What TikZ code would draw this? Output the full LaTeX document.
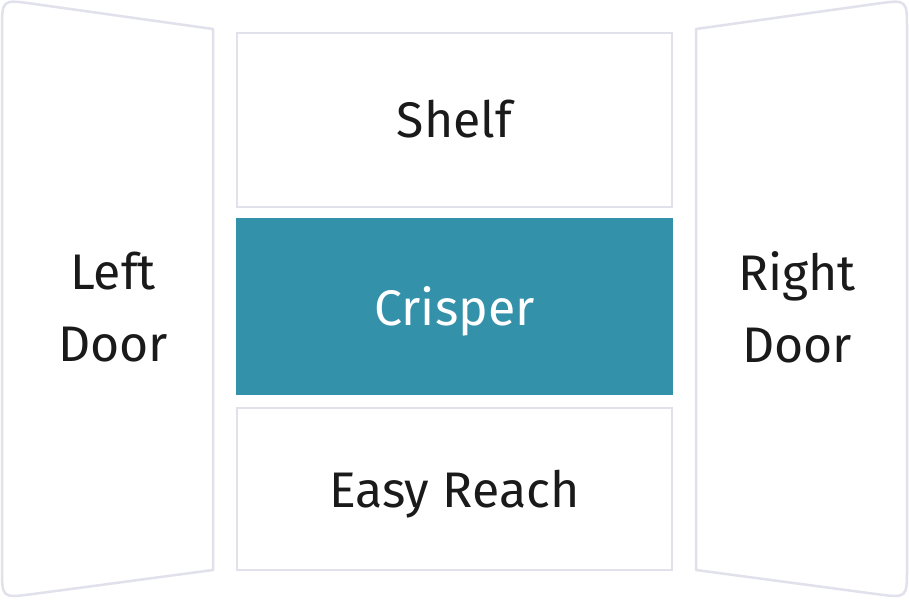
\documentclass[tikz,border=0pt]{standalone}
\usepackage{fontspec}
\setmainfont{Fira Sans}
\definecolor{edgegrey}{HTML}{E1E1EC}
\definecolor{crisperteal}{HTML}{3391AA}
\definecolor{inkdark}{HTML}{1A1A1A}
\tikzset{
  door/.style={draw=edgegrey, line width=2.5pt, line join=round, fill=white},
  bin/.style={draw=edgegrey, line width=2.5pt, fill=white},
  binname/.style={text=inkdark, align=center, font=\fontsize{50}{72}\selectfont, inner sep=0pt}
}

\begin{document}
\begin{tikzpicture}[x=1pt, y=-1pt]
            \useasboundingbox[fill=white] (0,0) rectangle (909,600);
            % doors, with the round corners on the outside
            \draw[door] (213,29) -- (31.7,3.6) .. controls (2,-0.5) .. (2,30)
                -- (2,568) .. controls (2,598) .. (31.7,594.2) -- (213,570) -- cycle;
            \draw[door] (696,29) -- (877.3,3.6) .. controls (907,-0.5) .. (907,30)
                -- (907,568) .. controls (907,598) .. (877.3,594.2) -- (696,570) -- cycle;
            \node[binname] (leftdoor) at (113,307) {Left\\Door};
            \node[binname] (rightdoor) at (797,307) {Right\\Door};

            % the three compartments
            \draw[bin] (237,33) rectangle (672,207);
            \fill[crisperteal] (236,218) rectangle (673,395);
            \draw[bin] (237,408) rectangle (672,570);
            \node[binname, anchor=base] (shelf) at (454.5,137) {Shelf};
            \node[binname, anchor=base, text=white] (crisper) at (454.5,325) {Crisper};
            \node[binname, anchor=base] (easyreach) at (454.5,507) {Easy Reach};
        \end{tikzpicture}
\end{document}
